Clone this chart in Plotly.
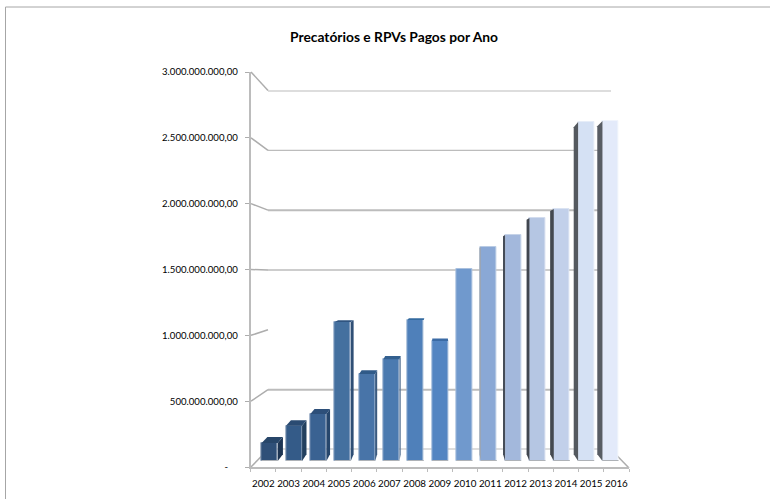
import plotly.graph_objects as go

# Annual payments, BRL
years = list(range(2002, 2017))
paid = [140e6, 276e6, 367e6, 1086e6, 680e6, 795e6, 1102e6, 937e6,
        1500e6, 1672e6, 1766e6, 1898e6, 1969e6, 2648e6, 2656e6]
front_colors = ["#2f5078", "#345b88", "#3a6292", "#44709f", "#4874a8", "#4b7ab0", "#4f80ba", "#5385c2",
                "#7099cd", "#8aa8d5", "#a3b8dc", "#b5c6e3", "#c2d0ea", "#d5e1f4", "#e3eafa"]
edge_colors = ["#7f93ad", "#8399b5", "#889fbc", "#8fa7c6", "#92abca", "#95aecd", "#98b2d2", "#9bb6d8",
               "#a9c0de", "#b9cbe4", "#c6d3e8", "#d2dcee", "#dae3f2", "#e6edf8", "#f0f4fc"]
side_colors = ["#1d3553", "#22405f", "#26466c", "#2f4f75", "#3a5a80", "#5a7696", "#7f94ad", "#a0aebf",
               "#b8bfc8", "#9aa0a8", "#454c58", "#40464f", "#43484f", "#54595f", "#585d64"]
top_colors = ["#274669", "#2a4b72", "#2d4f79", "#2f5480", "#305a88", "#33608f", "#336a9f", "#3b6ba5",
              "#6a8fc0", "#86a3cf", "#9fb4d8", "#b1c2e0", "#bfcde8", "#d2def2", "#e0e8f8"]
tick_values = [0, 500e6, 1000e6, 1500e6, 2000e6, 2500e6, 3000e6]
tick_labels = ["-\u00a0\u00a0\u00a0\u00a0", "500.000.000,00", "1.000.000.000,00", "1.500.000.000,00",
               "2.000.000.000,00", "2.500.000.000,00", "3.000.000.000,00"]
wall_line_widths = [2, 2, 0, 1.5, 2, 1.2, 2]

W, H = 770, 499
FONT = "Lato"
GRID = "#bcbcbc"


def fx(px):
    return px / W


def fy(px):
    return 1 - px / H


# Perspective used for the bar depth: faces recede toward this point
VANISH_YEAR = 2009.0
VANISH_VALUE = 1492e6
DEPTH_X = 0.032
DEPTH_Y = 0.035
BAR_WIDTH = 0.66


def recede(x, y):
    return x + (VANISH_YEAR - x) * DEPTH_X, y + (VANISH_VALUE - y) * DEPTH_Y


fig = go.Figure()

# Front scale: carries the tick labels and axis lines
fig.add_trace(go.Bar(x=[str(y) for y in years], y=[0] * len(years), xaxis="x", yaxis="y",
                     marker_opacity=0, hoverinfo="skip", showlegend=False))

# Bars on their own plane, slightly behind the front scale
fig.add_trace(go.Bar(
    x=years, y=paid, xaxis="x2", yaxis="y2", width=BAR_WIDTH,
    marker=dict(color=front_colors, line=dict(color=edge_colors, width=1)),
    showlegend=False, hoverinfo="x+y",
))

for year, value, side, top in zip(years, paid, side_colors, top_colors):
    left, right = year - BAR_WIDTH / 2, year + BAR_WIDTH / 2
    edge = right if year < VANISH_YEAR else left
    if year != VANISH_YEAR:
        ex0, ey0 = recede(edge, 0)
        ex1, ey1 = recede(edge, value)
        fig.add_trace(go.Scatter(
            x=[edge, edge, ex1, ex0, edge], y=[0, value, ey1, ey0, 0],
            xaxis="x2", yaxis="y2", mode="lines", line=dict(width=0), fill="toself",
            fillcolor=side, showlegend=False, hoverinfo="skip"))
    if value < VANISH_VALUE:
        lx, ly = recede(left, value)
        rx, ry = recede(right, value)
        fig.add_trace(go.Scatter(
            x=[left, right, rx, lx, left], y=[value, value, ry, ly, value],
            xaxis="x2", yaxis="y2", mode="lines", line=dict(width=0), fill="toself",
            fillcolor=top, showlegend=False, hoverinfo="skip"))
    # Grey lip along the foot of each bar
    fig.add_trace(go.Scatter(
        x=[left, right], y=[0, 0], xaxis="x2", yaxis="y2", mode="lines",
        line=dict(color="#aeb2b7", width=2), showlegend=False, hoverinfo="skip"))

# Empty trace so the back wall axes exist
fig.add_trace(go.Scatter(x=[None], y=[None], xaxis="x3", yaxis="y3", showlegend=False))

shapes = [
    # Outer chart border
    dict(type="line", xref="paper", yref="paper", x0=fx(5.5), x1=1, y0=fy(7), y1=fy(7),
         line=dict(color="#a6a6a6", width=1)),
    dict(type="line", xref="paper", yref="paper", x0=fx(5.5), x1=fx(5.5), y0=fy(7), y1=0,
         line=dict(color="#a6a6a6", width=1)),
]

# Back wall rules and the connectors that tie them to the front scale
FRONT_X, BACK_X, BACK_RIGHT = 251, 268, 611
FRONT_ZERO, FRONT_TOP = 467, 72
BACK_ZERO, BACK_TOP = 449.5, 90.5
for value, width in zip(tick_values, wall_line_widths):
    if width:
        shapes.append(dict(type="line", xref="paper", yref="y3", x0=fx(BACK_X), x1=fx(BACK_RIGHT),
                           y0=value, y1=value, layer="below", line=dict(color=GRID, width=width)))
    share = value / tick_values[-1]
    front_y = FRONT_ZERO + (FRONT_TOP - FRONT_ZERO) * share
    back_y = BACK_ZERO + (BACK_TOP - BACK_ZERO) * share
    shapes.append(dict(type="line", xref="paper", yref="paper", x0=fx(FRONT_X), x1=fx(BACK_X),
                       y0=fy(front_y), y1=fy(back_y), layer="below", line=dict(color="#adadad", width=1.5)))

# Floor edge on the right
shapes.append(dict(type="line", xref="paper", yref="paper", x0=fx(629), x1=fx(BACK_RIGHT),
                   y0=fy(468), y1=fy(BACK_ZERO), layer="below", line=dict(color="#adadad", width=1.5)))

fig.update_layout(
    width=W, height=H, autosize=False,
    margin=dict(l=0, r=0, t=0, b=0, autoexpand=False),
    paper_bgcolor="white", plot_bgcolor="rgba(0,0,0,0)",
    separators=",.",
    bargap=0,
    font=dict(family=FONT, color="#000000", size=10),
    showlegend=False,
    shapes=shapes,
    title=dict(text="<b>Precatórios e RPVs Pagos por Ano</b>", x=fx(394), xanchor="center",
               y=fy(37.5), yanchor="middle", font=dict(family=FONT, size=13.8, color="#000000")),
    xaxis=dict(domain=[fx(250.7), fx(629)], type="category", tickson="boundaries", ticks="outside",
               ticklen=3, tickcolor=GRID, tickwidth=1, showline=True, linecolor=GRID, linewidth=2,
               showgrid=False, zeroline=False, tickangle=0, ticklabelstandoff=6,
               tickfont=dict(size=9.8, family=FONT), anchor="y"),
    yaxis=dict(domain=[fy(467), fy(72)], range=[0, 3e9], tickvals=tick_values, ticktext=tick_labels,
               ticks="outside", ticklen=4, tickcolor="#adadad", tickwidth=1, showline=True,
               linecolor=GRID, linewidth=2, showgrid=False, zeroline=False, ticklabelstandoff=5,
               tickfont=dict(size=9.6, family=FONT), anchor="x"),
    xaxis2=dict(domain=[fx(269.7 - 24.34), fx(610.5 + 24.34)], range=[2001, 2017], visible=False, anchor="y2"),
    yaxis2=dict(domain=[fy(461), fy(77)], range=[0, 3e9], visible=False, anchor="x2"),
    xaxis3=dict(domain=[fx(BACK_X), fx(BACK_RIGHT)], range=[0, 1], visible=False, anchor="y3"),
    yaxis3=dict(domain=[fy(BACK_ZERO), fy(BACK_TOP)], range=[0, 3e9], visible=False, anchor="x3"),
)

fig.write_html("out.html")
